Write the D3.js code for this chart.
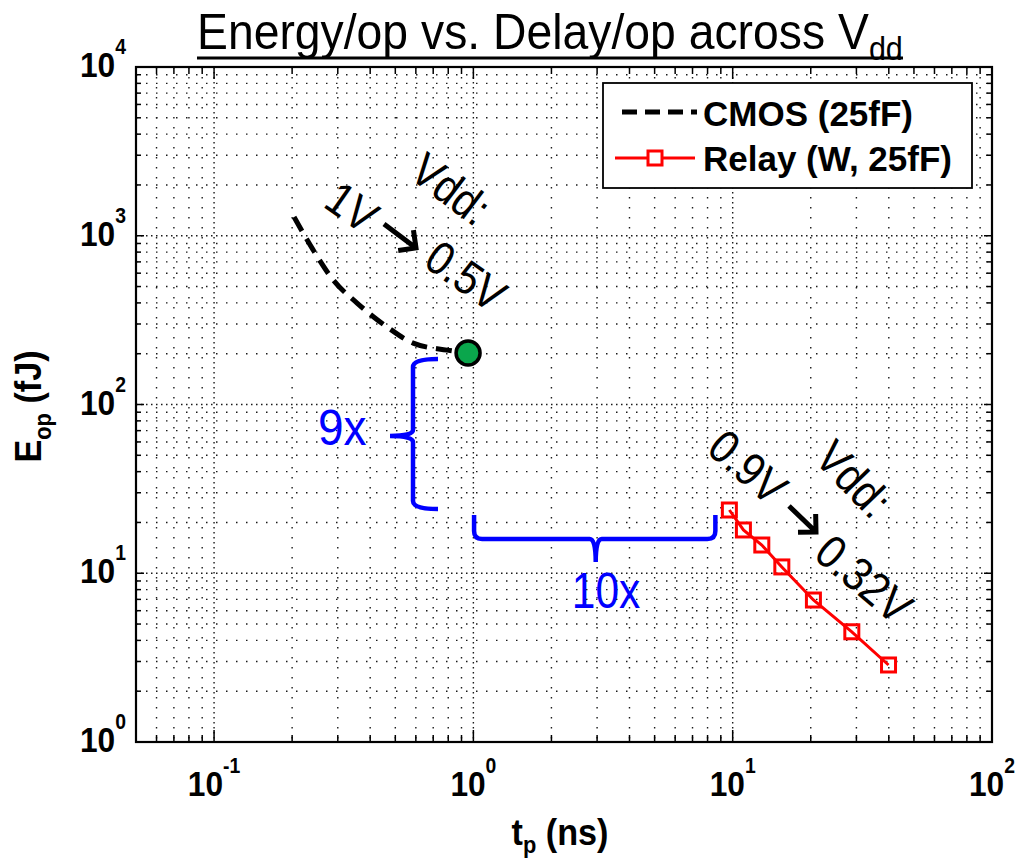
<!DOCTYPE html>
<html>
<head>
<meta charset="utf-8">
<script src="https://cdn.jsdelivr.net/npm/d3@7"></script>
<style>
  body { margin: 0; background: #fff; }
  svg { display: block; }
  text { font-family: "Liberation Sans", Arial, Helvetica, sans-serif; }
</style>
</head>
<body>
<svg id="chart" width="1015" height="861"></svg>
<script>
// ---- data -------------------------------------------------------------
// CMOS inverter chain, Vdd swept 1 V -> 0.5 V
const cmosDelay  = [0.2035, 0.241, 0.288, 0.356, 0.465, 0.586, 0.792, 0.954];   // ns
const cmosEnergy = [1291, 824, 547, 399, 288, 231, 210, 202];                     // fJ
// Tungsten relay, Vdd swept 0.9 V -> 0.32 V
const relayDelay  = [9.71, 11.0, 12.95, 15.47, 20.48, 28.8, 39.9];               // ns
const relayEnergy = [23.7, 18.05, 14.7, 10.9, 6.94, 4.50, 2.86];                 // fJ

const seriesNames = ["CMOS (25fF)", "Relay (W, 25fF)"];
const xDomain = [0.05, 100];
const yDomain = [1, 10000];
const xMajorTicks = [0.1, 1, 10, 100];
const yMajorTicks = [1, 10, 100, 1000, 10000];
const ratioLabels = ["9x", "10x"];

// ---- layout -----------------------------------------------------------
const svg = d3.select("#chart");
const W = 1015, H = 861;
const plot = { left: 136, right: 992, top: 67, bottom: 742 };

svg.append("rect").attr("width", W).attr("height", H).attr("fill", "#fff");

const x = d3.scaleLog().domain(xDomain).range([plot.left, plot.right]);
const y = d3.scaleLog().domain(yDomain).range([plot.bottom, plot.top]);

const isMajor = (v, majors) => majors.some(m => Math.abs(Math.log10(v) - Math.log10(m)) < 1e-6);
const xAll = x.ticks();
const yAll = y.ticks();
const inside = (v, dom) => v > dom[0] * 1.0001 && v < dom[1] * 0.9999;

// ---- dotted grid ------------------------------------------------------
const grid = svg.append("g").attr("stroke", "#1a1a1a").attr("stroke-width", 1.4).attr("fill", "none");
xAll.filter(v => inside(v, xDomain)).forEach(v => {
  grid.append("line")
    .attr("x1", x(v)).attr("x2", x(v)).attr("y1", plot.top).attr("y2", plot.bottom)
    .attr("stroke-dasharray", isMajor(v, xMajorTicks) ? "1.5,3.5" : "1.5,8.5");
});
yAll.filter(v => inside(v, yDomain)).forEach(v => {
  grid.append("line")
    .attr("y1", y(v)).attr("y2", y(v)).attr("x1", plot.left).attr("x2", plot.right)
    .attr("stroke-dasharray", isMajor(v, yMajorTicks) ? "1.5,3.5" : "1.5,8.5");
});

// ---- CMOS curve -------------------------------------------------------
const cmos = cmosDelay.map((d, i) => ({ t: d, e: cmosEnergy[i] }));
const relay = relayDelay.map((d, i) => ({ t: d, e: relayEnergy[i] }));

const line = d3.line().x(d => x(d.t)).y(d => y(d.e)).curve(d3.curveMonotoneX);
svg.append("path").datum(cmos)
  .attr("d", line)
  .attr("fill", "none").attr("stroke", "#000").attr("stroke-width", 5)
  .attr("stroke-dasharray", "16,9");

// ---- relay curve ------------------------------------------------------
const rline = d3.line().x(d => x(d.t)).y(d => y(d.e));
svg.append("path").datum(relay)
  .attr("d", rline)
  .attr("fill", "none").attr("stroke", "#ff0000").attr("stroke-width", 3);
const sq = 14;
svg.append("g").selectAll("rect").data(relay).join("rect")
  .attr("x", d => x(d.t) - sq / 2).attr("y", d => y(d.e) - sq / 2)
  .attr("width", sq).attr("height", sq)
  .attr("fill", "none").attr("stroke", "#ff0000").attr("stroke-width", 3);

// low-voltage CMOS operating point
const cmosEnd = cmos[cmos.length - 1];
svg.append("circle")
  .attr("cx", x(cmosEnd.t)).attr("cy", y(cmosEnd.e)).attr("r", 12)
  .attr("fill", "#0aa64c").attr("stroke", "#000").attr("stroke-width", 3.5);

// ---- ratio braces -----------------------------------------------------
const relayStart = relay[0];
const blue = "#0000ff";
{
  // vertical brace: energy gap
  const bx = 413, top = y(cmosEnd.e) + 6, bot = y(relayStart.e) - 1;
  const mid = (top + bot) / 2 + 2, hook = 25, tip = 23, r = 8;
  const p = `M${bx + hook},${top} Q${bx},${top} ${bx},${top + r} L${bx},${mid - 6} Q${bx},${mid} ${bx - tip},${mid}`
          + ` Q${bx},${mid} ${bx},${mid + 6} L${bx},${bot - r} Q${bx},${bot} ${bx + hook},${bot}`;
  svg.append("path").attr("d", p).attr("fill", "none").attr("stroke", blue).attr("stroke-width", 4.5);
  svg.append("text")
    .attr("font-size", 50).attr("fill", blue)
    .attr("transform", "translate(318,445) scale(0.92,1)")
    .text(ratioLabels[0]);
}
{
  // horizontal brace: delay gap
  const by = 539, left = x(cmosEnd.t) + 6, right = x(relayStart.t) - 14;
  const top = 515, mid = (left + right) / 2 + 1, tip = 23, r = 8;
  const p = `M${left},${top} L${left},${by - r} Q${left},${by} ${left + r},${by} L${mid - 6},${by} Q${mid},${by} ${mid},${by + tip}`
          + ` Q${mid},${by} ${mid + 6},${by} L${right - r},${by} Q${right},${by} ${right},${by - r} L${right},${top}`;
  svg.append("path").attr("d", p).attr("fill", "none").attr("stroke", blue).attr("stroke-width", 4.5);
  svg.append("text")
    .attr("font-size", 50).attr("fill", blue).attr("text-anchor", "middle")
    .attr("transform", "translate(606,608) scale(0.85,1)")
    .text(ratioLabels[1]);
}

// ---- Vdd sweep annotations --------------------------------------------
const notes = [
  { s: "Vdd:",  cx: 451, cy: 189, a: 37 },
  { s: "1V",    cx: 352, cy: 207, a: 35 },
  { s: "0.5V",  cx: 466, cy: 276, a: 35 },
  { s: "0.9V",  cx: 748, cy: 467, a: 41 },
  { s: "Vdd:",  cx: 854, cy: 479, a: 46 },
  { s: "0.32V", cx: 864, cy: 579, a: 40 }
];
svg.append("g").selectAll("text").data(notes).join("text")
  .attr("transform", d => `translate(${d.cx},${d.cy}) rotate(${d.a}) scale(0.88,1)`)
  .attr("text-anchor", "middle").attr("dominant-baseline", "central")
  .attr("font-size", 47).attr("fill", "#000")
  .text(d => d.s);

function arrow(x1, y1, x2, y2) {
  const ang = Math.atan2(y2 - y1, x2 - x1), L = 18;
  const a1 = ang + Math.PI - Math.PI / 4, a2 = ang + Math.PI + Math.PI / 4;
  svg.append("path")
    .attr("d", `M${x1},${y1} L${x2},${y2} M${x2 + L * Math.cos(a1)},${y2 + L * Math.sin(a1)} L${x2},${y2} L${x2 + L * Math.cos(a2)},${y2 + L * Math.sin(a2)}`)
    .attr("fill", "none").attr("stroke", "#000").attr("stroke-width", 5).attr("stroke-linejoin", "miter");
}
arrow(384, 224, 416, 248);
arrow(789, 506, 816, 532);

// ---- axes box and ticks -----------------------------------------------
const axes = svg.append("g").attr("stroke", "#000").attr("fill", "none");
xAll.filter(v => inside(v, xDomain)).forEach(v => {
  const L = isMajor(v, xMajorTicks) ? 12 : 7;
  axes.append("line").attr("x1", x(v)).attr("x2", x(v)).attr("y1", plot.bottom).attr("y2", plot.bottom - L).attr("stroke-width", 1.5);
  axes.append("line").attr("x1", x(v)).attr("x2", x(v)).attr("y1", plot.top).attr("y2", plot.top + L).attr("stroke-width", 1.5);
});
yAll.filter(v => inside(v, yDomain)).forEach(v => {
  const L = isMajor(v, yMajorTicks) ? 8 : 5;
  axes.append("line").attr("y1", y(v)).attr("y2", y(v)).attr("x1", plot.left).attr("x2", plot.left + L).attr("stroke-width", 1.5);
  axes.append("line").attr("y1", y(v)).attr("y2", y(v)).attr("x1", plot.right).attr("x2", plot.right - L).attr("stroke-width", 1.5);
});
axes.append("rect")
  .attr("x", plot.left).attr("y", plot.top)
  .attr("width", plot.right - plot.left).attr("height", plot.bottom - plot.top)
  .attr("stroke-width", 2.2);

// tick labels: 10^n
function powerLabel(tx, ty, anchor, v) {
  const t = svg.append("text")
    .attr("transform", `translate(${tx},${ty}) scale(0.88,1)`)
    .attr("text-anchor", anchor).attr("font-weight", "bold").attr("font-size", 36).attr("fill", "#000");
  t.append("tspan").text("10");
  t.append("tspan").attr("font-size", 22).attr("dy", -23).text(Math.round(Math.log10(v)));
}
xMajorTicks.forEach(v => powerLabel(x(v), 796, "middle", v));
yMajorTicks.forEach(v => powerLabel(126, y(v) + 10, "end", v));

// axis titles
{
  const t = svg.append("text")
    .attr("transform", "translate(560,845) scale(0.95,1)")
    .attr("text-anchor", "middle").attr("font-weight", "bold").attr("font-size", 36).attr("fill", "#000");
  t.append("tspan").text("t");
  t.append("tspan").attr("font-size", 23).attr("dy", 8).text("p");
  t.append("tspan").attr("dy", -8).text(" (ns)");
}
{
  const t = svg.append("text")
    .attr("transform", `translate(41,${(plot.top + plot.bottom) / 2 + 2}) rotate(-90) scale(0.95,1)`)
    .attr("text-anchor", "middle").attr("font-weight", "bold").attr("font-size", 36).attr("fill", "#000");
  t.append("tspan").text("E");
  t.append("tspan").attr("font-size", 23).attr("dy", 10).text("op");
  t.append("tspan").attr("dy", -10).text(" (fJ)");
}

// ---- legend -----------------------------------------------------------
const lg = svg.append("g");
lg.append("rect").attr("x", 603).attr("y", 83).attr("width", 369).attr("height", 105)
  .attr("fill", "#fff").attr("stroke", "#000").attr("stroke-width", 1.8);
lg.append("line").attr("x1", 622).attr("x2", 697).attr("y1", 112).attr("y2", 112)
  .attr("stroke", "#000").attr("stroke-width", 5).attr("stroke-dasharray", "15,8");
lg.append("line").attr("x1", 615).attr("x2", 695).attr("y1", 158).attr("y2", 158)
  .attr("stroke", "#ff0000").attr("stroke-width", 3);
lg.append("rect").attr("x", 655 - sq / 2).attr("y", 158 - sq / 2).attr("width", sq).attr("height", sq)
  .attr("fill", "#fff").attr("stroke", "#ff0000").attr("stroke-width", 3);
lg.selectAll("text.lab").data(seriesNames).join("text").attr("class", "lab")
  .attr("x", 703).attr("y", (d, i) => 126 + i * 45)
  .attr("font-weight", "bold").attr("font-size", 35).attr("fill", "#000")
  .text(d => d);

// ---- title ------------------------------------------------------------
{
  const g = svg.append("g");
  const t = g.append("text").attr("x", 0).attr("y", 0).attr("font-size", 50).attr("fill", "#000");
  t.append("tspan").text("Energy/op vs. Delay/op across V");
  t.append("tspan").attr("font-size", 33).attr("dy", 11).text("dd");
  const w = t.node().getComputedTextLength();
  const target = 706, sx = target / w;
  g.attr("transform", `translate(197,49) scale(${sx},1)`);
  svg.append("line").attr("x1", 197).attr("x2", 197 + target).attr("y1", 58).attr("y2", 58)
    .attr("stroke", "#000").attr("stroke-width", 3);
}
</script>
</body>
</html>
